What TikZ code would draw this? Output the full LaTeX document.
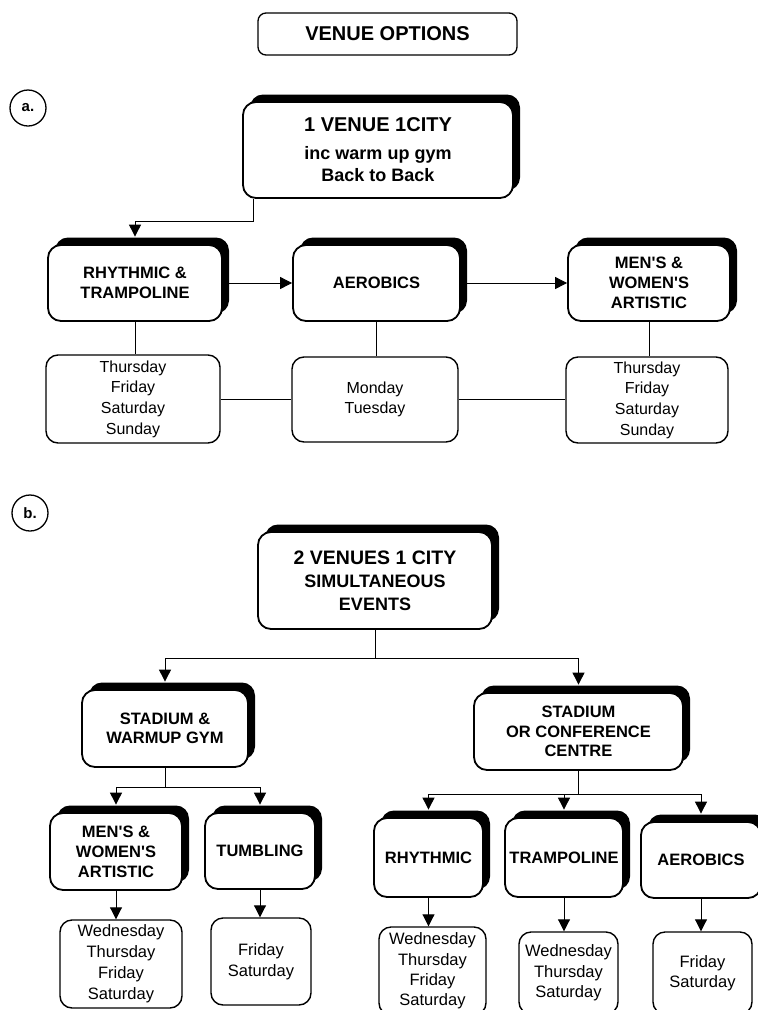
\documentclass[tikz,border=0pt]{standalone}
\usepackage{fontspec}
\setmainfont{Liberation Sans}
\usetikzlibrary{arrows.meta,shadows}
\tikzset{
  mainbox/.style={draw, line width=1.8pt, fill=white, rounded corners=13pt, align=center, inner sep=0pt,
    font=\bfseries\fontsize{16.5}{19.5}\selectfont,
    general shadow={fill=black, shadow xshift=7pt, shadow yshift=7.5pt}},
  daybox/.style={draw, line width=1.4pt, fill=white, rounded corners=12pt, align=center, inner sep=0pt,
    font=\fontsize{16}{20.7}\selectfont},
  titlebox/.style={draw, line width=1.3pt, fill=white, rounded corners=8pt, align=center, inner sep=0pt,
    font=\bfseries\fontsize{20}{22}\selectfont},
  lblcirc/.style={draw, circle, line width=1.3pt, minimum size=36pt, inner sep=0pt,
    font=\bfseries\fontsize{15}{18}\selectfont},
  conn/.style={draw=black, line width=0.9pt},
  arr/.style={conn, -{Triangle[length=12pt,width=12pt]}},
}
\newcommand{\aps}{\textquotesingle}
\begin{document}
\begin{tikzpicture}[x=1pt,y=-1pt]
\useasboundingbox (0,0) rectangle (758,1010);
\clip (0,0) rectangle (758,1010);
\fill[white] (0,0) rectangle (758,1010);

% title and section labels
\node[titlebox, minimum width=259pt, minimum height=42pt] (title) at (387.5,34) {VENUE OPTIONS};
\node[lblcirc] (ca) at (28,108) {a.};
\node[lblcirc] (cb) at (30,513) {b.};

% section a
\node[mainbox, minimum width=270pt, minimum height=96pt, font=\bfseries\fontsize{18}{22}\selectfont] (venue1) at (378,150)
  {{\fontsize{20}{22}\selectfont 1 VENUE 1CITY}\\[6pt]inc warm up gym\\Back to Back};
\node[mainbox, minimum width=174pt, minimum height=76pt] (rhy) at (135,283) {RHYTHMIC \&\\TRAMPOLINE};
\node[mainbox, minimum width=167pt, minimum height=76pt] (aer) at (376.5,283) {AEROBICS};
\node[mainbox, minimum width=162pt, minimum height=76pt, font=\bfseries\fontsize{16.5}{20}\selectfont] (men) at (649,283) {MEN\aps S \&\\WOMEN\aps S\\ARTISTIC};

\node[daybox, minimum width=174pt, minimum height=88pt] (d1) at (133,399) {Thursday\\Friday\\Saturday\\Sunday};
\node[daybox, minimum width=166pt, minimum height=85pt] (d2) at (375,399.5) {Monday\\Tuesday};
\node[daybox, minimum width=162pt, minimum height=86pt] (d3) at (647,400) {Thursday\\Friday\\Saturday\\Sunday};

\draw[arr] ([xshift=11pt]venue1.south west) -- ++(0,23) -| ([yshift=7.5pt]rhy.north);
\draw[arr] (rhy.east) -- (aer.west);
\draw[arr] (aer.east) -- (men.west);
\draw[conn] (rhy.south) -- (rhy.south |- d1.north);
\draw[conn] (aer.south) -- (aer.south |- d2.north);
\draw[conn] (men.south) -- (men.south |- d3.north);
\draw[conn] (d1.east) -- (d1.east -| d2.west);
\draw[conn] (d2.east) -- (d2.east -| d3.west);

% section b
\node[mainbox, minimum width=234pt, minimum height=97pt, font=\bfseries\fontsize{18}{23}\selectfont] (venue2) at (375,580.5)
  {{\fontsize{19.5}{23}\selectfont 2 VENUES 1 CITY}\\SIMULTANEOUS\\EVENTS};
\node[mainbox, minimum width=166pt, minimum height=77pt] (stad1) at (165,728.5) {STADIUM \&\\WARMUP GYM};
\node[mainbox, minimum width=209pt, minimum height=77pt] (stad2) at (578.5,731.5) {STADIUM\\OR CONFERENCE\\CENTRE};

\node[mainbox, minimum width=132pt, minimum height=77pt, font=\bfseries\fontsize{16.5}{20}\selectfont] (menb) at (116,851.5) {MEN\aps S \&\\WOMEN\aps S\\ARTISTIC};
\node[mainbox, minimum width=110pt, minimum height=76pt] (tumb) at (260,851) {TUMBLING};
\node[mainbox, minimum width=109pt, minimum height=79pt] (rhyb) at (428.5,857.5) {RHYTHMIC};
\node[mainbox, minimum width=118pt, minimum height=79pt] (trab) at (564,857.5) {TRAMPOLINE};
\node[mainbox, minimum width=120pt, minimum height=76pt] (aerb) at (701,860) {AEROBICS};

\node[daybox, minimum width=122pt, minimum height=88pt, font=\fontsize{16.5}{21}\selectfont] (db1) at (121,964) {Wednesday\\Thursday\\Friday\\Saturday};
\node[daybox, minimum width=100pt, minimum height=87pt, font=\fontsize{16.5}{21}\selectfont] (db2) at (261,961.5) {Friday\\Saturday};
\node[daybox, minimum width=107pt, minimum height=88pt, font=\fontsize{16.5}{20.3}\selectfont] (dr) at (432.5,971) {Wednesday\\Thursday\\Friday\\Saturday};
\node[daybox, minimum width=99pt, minimum height=82pt, font=\fontsize{16.5}{20.3}\selectfont] (dt) at (568.5,973) {Wednesday\\Thursday\\Saturday};
\node[daybox, minimum width=99pt, minimum height=82pt, font=\fontsize{16.5}{20.3}\selectfont] (da) at (702.5,973) {Friday\\Saturday};

\draw[conn] (venue2.south) -- ++(0,29) coordinate (j1);
\draw[arr] (j1) -| ([yshift=7.5pt]stad1.north);
\draw[arr] (j1) -| ([yshift=7.5pt]stad2.north);
\draw[conn] (stad1.south) -- ++(0,20) coordinate (j2);
\draw[arr] (j2) -| ([yshift=7.5pt]menb.north);
\draw[arr] (j2) -| ([yshift=7.5pt]tumb.north);
\draw[conn] (stad2.south) -- ++(0,24) coordinate (j3);
\draw[arr] (j3) -| ([yshift=7.5pt]rhyb.north);
\draw[arr] (j3) -| ([yshift=7.5pt]trab.north);
\draw[arr] (j3) -| ([yshift=7.5pt]aerb.north);
\draw[arr] (menb.south) -- (menb.south |- db1.north);
\draw[arr] (tumb.south) -- (tumb.south |- db2.north);
\draw[arr] (rhyb.south) -- (rhyb.south |- dr.north);
\draw[arr] (trab.south) -- (trab.south |- dt.north);
\draw[arr] (aerb.south) -- (aerb.south |- da.north);
\end{tikzpicture}
\end{document}
